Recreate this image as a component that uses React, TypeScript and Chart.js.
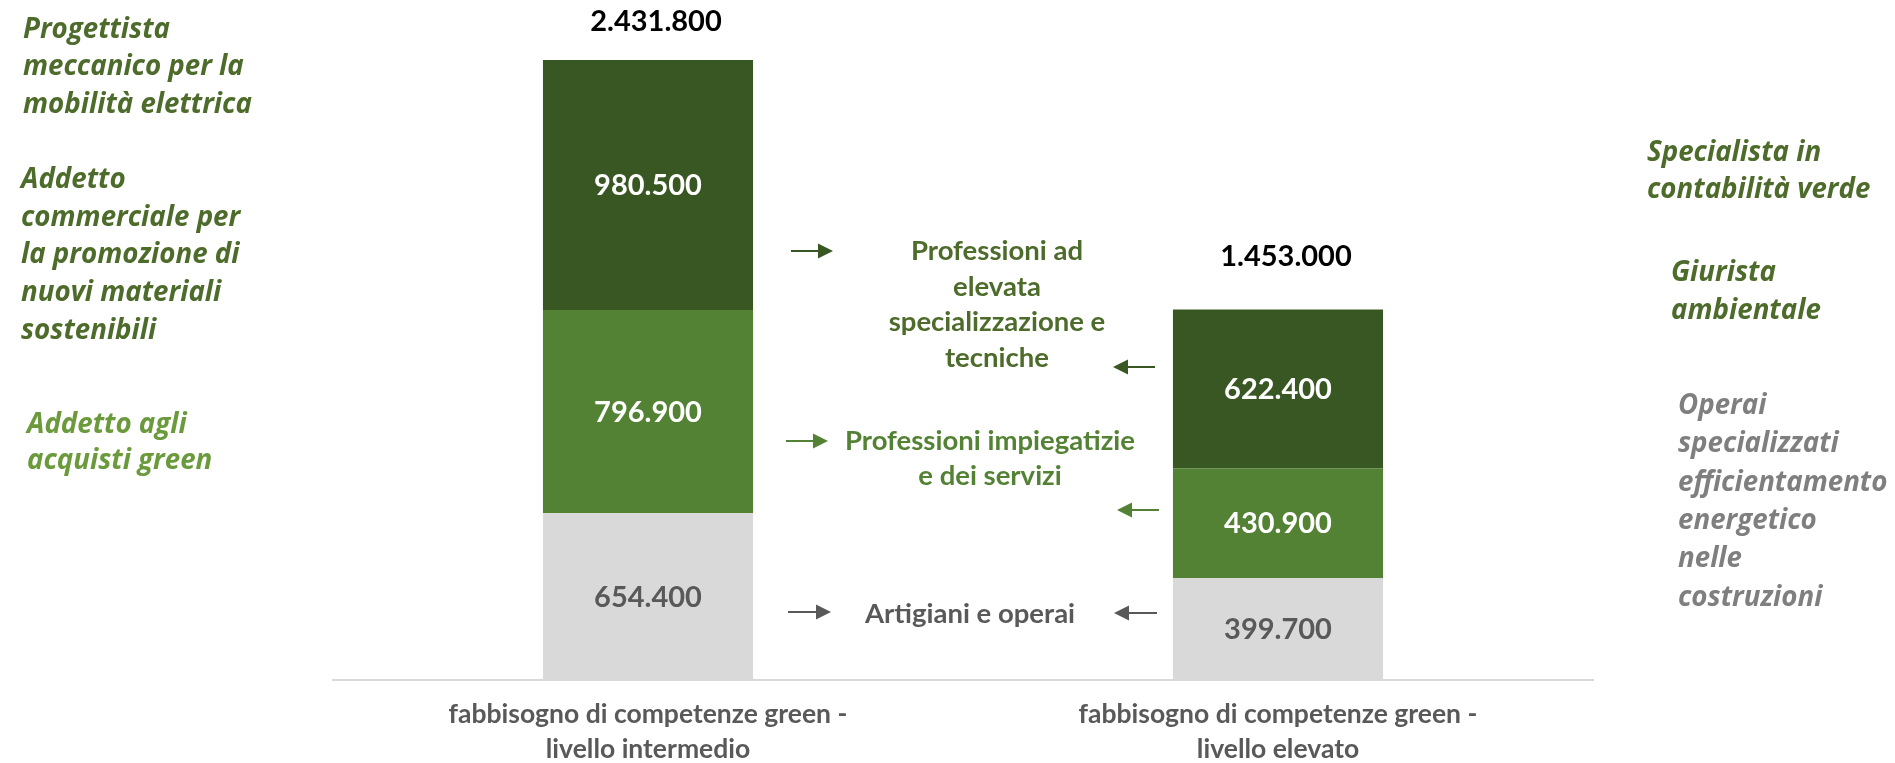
import React, { useEffect, useRef } from "react";
import { Chart, registerables } from "chart.js";

Chart.register(...registerables);

// ---------- data ----------
const categories: string[][] = [
  ["fabbisogno di competenze green -", "livello intermedio"],
  ["fabbisogno di competenze green -", "livello elevato"],
];
const seriesNames = [
  "Artigiani e operai",
  "Professioni impiegatizie e dei servizi",
  "Professioni ad elevata specializzazione e tecniche",
];
const artigianiOperai = [654400, 399700];
const impiegatizieServizi = [796900, 430900];
const elevataSpecializzazione = [980500, 622400];
const totals = [2431800, 1453000];

const leftNotes = [
  ["Progettista", "meccanico per la", "mobilità elettrica"],
  ["Addetto", "commerciale per", "la promozione di", "nuovi materiali", "sostenibili"],
  ["Addetto agli", "acquisti green"],
];
const rightNotes = [
  ["Specialista in", "contabilità verde"],
  ["Giurista", "ambientale"],
  ["Operai", "specializzati", "efficientamento", "energetico", "nelle", "costruzioni"],
];
const middleLabels = [
  ["Professioni ad", "elevata", "specializzazione e", "tecniche"],
  ["Professioni impiegatizie", "e dei servizi"],
  ["Artigiani e operai"],
];

// ---------- styles ----------
const DARK = "#385723";
const MID = "#548235";
const GREY = "#d9d9d9";
const TEXT_GREY = "#595959";
const NOTE_DARK = "#4d6b2a";
const NOTE_LIGHT = "#6b9a3c";
const NOTE_GREY = "#7f7f7f";
const FONT = "Lato, 'Open Sans', sans-serif";
const ITALIC_FONT = "'Open Sans', Lato, sans-serif";

const fmt = (n: number) => n.toString().replace(/\B(?=(\d{3})+(?!\d))/g, ".");

const annotationPlugin = {
  id: "annotations",
  afterDatasetsDraw(chart: any) {
    const ctx: CanvasRenderingContext2D = chart.ctx;
    ctx.save();
    // segment value labels
    const labelColors = [TEXT_GREY, "#ffffff", "#ffffff"];
    chart.data.datasets.forEach((ds: any, di: number) => {
      const meta = chart.getDatasetMeta(di);
      meta.data.forEach((bar: any, i: number) => {
        const v = ds.data[i];
        ctx.font = `bold 29px ${FONT}`;
        ctx.fillStyle = labelColors[di];
        ctx.textAlign = "center";
        ctx.textBaseline = "middle";
        ctx.fillText(fmt(v), bar.x, (bar.y + bar.base) / 2 + 1);
      });
    });
    // totals
    const topMeta = chart.getDatasetMeta(chart.data.datasets.length - 1);
    const totalOffsets = [38, 53];
    topMeta.data.forEach((bar: any, i: number) => {
      ctx.font = `bold 29px ${FONT}`;
      ctx.fillStyle = "#000000";
      ctx.textAlign = "center";
      ctx.textBaseline = "middle";
      ctx.fillText(fmt(totals[i]), bar.x + 8, bar.y - totalOffsets[i]);
    });

    const drawLines = (
      lines: string[],
      x: number,
      y: number,
      step: number,
      font: string,
      color: string,
      align: CanvasTextAlign
    ) => {
      ctx.font = font;
      ctx.fillStyle = color;
      ctx.textAlign = align;
      ctx.textBaseline = "middle";
      lines.forEach((t, k) => ctx.fillText(t, x, y + k * step));
    };

    const italic = `italic bold 27.7px ${ITALIC_FONT}`;
    // left notes
    drawLines(leftNotes[0], 23, 30, 37.5, italic, NOTE_DARK, "left");
    drawLines(leftNotes[1], 21, 180, 37.75, italic, NOTE_DARK, "left");
    drawLines(leftNotes[2], 27, 425, 36.5, italic, NOTE_LIGHT, "left");
    // right notes
    drawLines(rightNotes[0], 1647, 153, 37.5, italic, NOTE_DARK, "left");
    drawLines(rightNotes[1], 1671, 273, 38, italic, NOTE_DARK, "left");
    drawLines(rightNotes[2], 1678, 406, 38.4, italic, NOTE_GREY, "left");

    // middle labels
    const mid = `bold 27.5px ${FONT}`;
    drawLines(middleLabels[0], 997, 251, 35.7, mid, NOTE_DARK, "center");
    drawLines(middleLabels[1], 990, 441, 35, mid, MID, "center");
    drawLines(middleLabels[2], 970, 614, 35, mid, TEXT_GREY, "center");

    // arrows
    const arrow = (tail: number, tip: number, y: number, color: string) => {
      const dir = tip > tail ? 1 : -1;
      const headLen = 15;
      const headHalf = 7.5;
      ctx.strokeStyle = color;
      ctx.fillStyle = color;
      ctx.lineWidth = 2;
      ctx.beginPath();
      ctx.moveTo(tail, y);
      ctx.lineTo(tip - dir * headLen, y);
      ctx.stroke();
      ctx.beginPath();
      ctx.moveTo(tip, y);
      ctx.lineTo(tip - dir * headLen, y - headHalf);
      ctx.lineTo(tip - dir * headLen, y + headHalf);
      ctx.closePath();
      ctx.fill();
    };
    arrow(791, 833, 251, DARK);
    arrow(786, 828, 441, MID);
    arrow(788, 831, 612, TEXT_GREY);
    arrow(1155, 1113, 367, DARK);
    arrow(1159, 1117, 510, MID);
    arrow(1157, 1114, 613, TEXT_GREY);

    ctx.restore();
  },
};

export default function App() {
  const ref = useRef<HTMLCanvasElement | null>(null);
  useEffect(() => {
    if (!ref.current) return;
    const chart = new Chart(ref.current, {
      type: "bar",
      data: {
        labels: categories,
        datasets: [
          { label: seriesNames[0], data: artigianiOperai, backgroundColor: GREY },
          { label: seriesNames[1], data: impiegatizieServizi, backgroundColor: MID },
          { label: seriesNames[2], data: elevataSpecializzazione, backgroundColor: DARK },
        ],
      },
      options: {
        responsive: false,
        animation: false,
        devicePixelRatio: 1,
        layout: { padding: { top: 17, left: 333, right: 302, bottom: 0 } },
        datasets: { bar: { barPercentage: 1, categoryPercentage: 0.3335 } },
        plugins: {
          legend: { display: false },
          tooltip: { enabled: false },
        },
        scales: {
          x: {
            stacked: true,
            grid: { display: false, drawTicks: false },
            border: { display: true, color: GREY, width: 2 },
            ticks: {
              color: TEXT_GREY,
              padding: 17,
              font: { family: FONT, size: 26.5, weight: "bold", lineHeight: 35 / 26.5 },
              maxRotation: 0,
              autoSkip: false,
            },
            afterFit: (scale: any) => {
              scale.height = 83;
            },
          },
          y: {
            stacked: true,
            display: false,
            min: 0,
            max: 2600000,
          },
        },
      },
      plugins: [annotationPlugin],
    });
    return () => chart.destroy();
  }, []);
  return (
    <div style={{ position: "absolute", left: 0, top: 0, width: 1895, height: 763, background: "#fff" }}>
      <canvas ref={ref} width={1895} height={763} style={{ display: "block" }} />
    </div>
  );
}
